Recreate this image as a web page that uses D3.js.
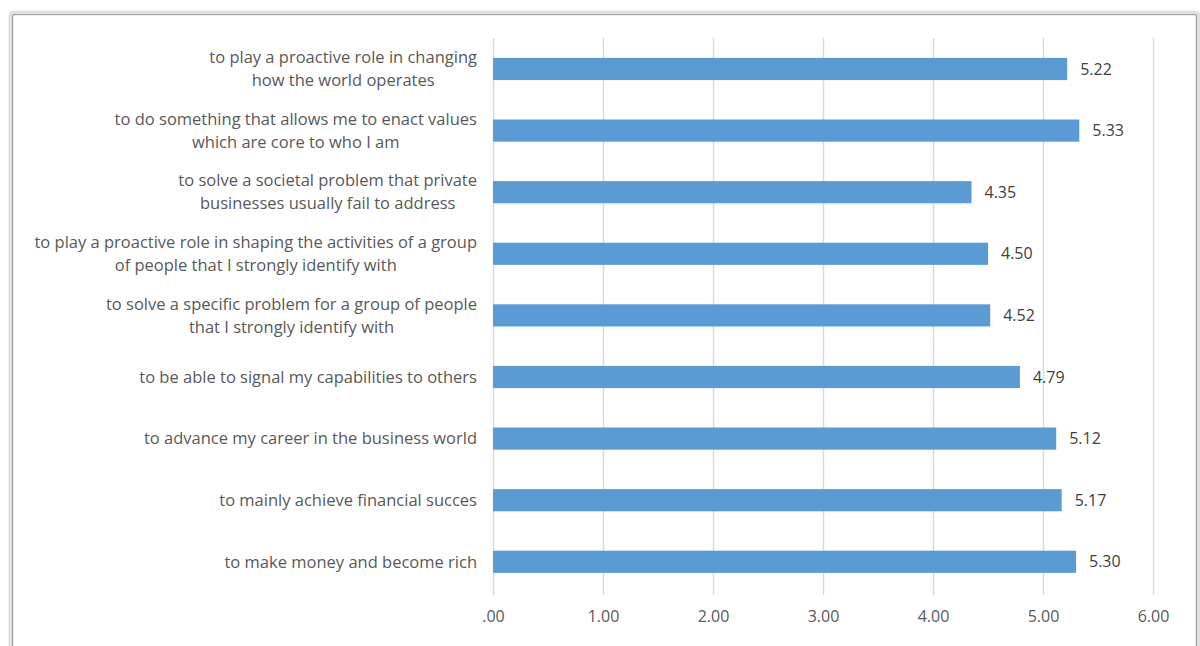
<!DOCTYPE html>
<html><head><meta charset="utf-8">
<script src="https://d3js.org/d3.v7.min.js"></script>
<style>body{margin:0;background:#fff;}svg{display:block;}</style>
</head><body>
<script>
const categories = [
  ["to play a proactive role in changing","how the world operates"],
  ["to do something that allows me to enact values","which are core to who I am"],
  ["to solve a societal problem that private","businesses usually fail to address"],
  ["to play a proactive role in shaping the activities of a group","of people that I strongly identify with"],
  ["to solve a specific problem for a group of people","that I strongly identify with"],
  ["to be able to signal my capabilities to others"],
  ["to advance my career in the business world"],
  ["to mainly achieve financial succes"],
  ["to make money and become rich"]
];
const values = [5.22, 5.33, 4.35, 4.50, 4.52, 4.79, 5.12, 5.17, 5.30];
const xTicks = [0, 1, 2, 3, 4, 5, 6];

const W = 1200, H = 646;
const svg = d3.select("body").append("svg").attr("width", W).attr("height", H);
const font = "'Open Sans', 'DejaVu Sans', sans-serif";

// frame
svg.append("rect").attr("x", 10).attr("y", 12).attr("width", 1189).attr("height", 700)
  .attr("rx", 4).attr("fill", "none").attr("stroke", "#e0e0e0").attr("stroke-width", 3);
svg.append("rect").attr("x", 12.5).attr("y", 14.5).attr("width", 1184).attr("height", 700)
  .attr("rx", 2).attr("fill", "#fff").attr("stroke", "#a8a8a8").attr("stroke-width", 1.5);

const x = d3.scaleLinear().domain([0, 6]).range([493, 1153]);
const idx = categories.map((d, i) => i);
const y = d3.scaleBand().domain(idx).range([38.2, 592.6]).paddingInner(0.64).paddingOuter(0.32);

// gridlines + axis ticks
const xAxis = d3.axisBottom(x).tickValues(xTicks)
  .tickFormat(d => d === 0 ? ".00" : d.toFixed(2))
  .tickSize(-(595 - 38)).tickPadding(16);
const gx = svg.append("g").attr("transform", "translate(0,595)").call(xAxis);
gx.select(".domain").remove();
gx.selectAll(".tick line").attr("stroke", "#d9d9d9").attr("stroke-width", 1.5);
gx.selectAll(".tick text").attr("fill", "#595959").style("font-family", font).style("font-size", "16px");

// bars
svg.append("g").selectAll("rect").data(values).join("rect")
  .attr("x", x(0)).attr("y", (d, i) => y(i))
  .attr("width", d => x(d) - x(0)).attr("height", y.bandwidth())
  .attr("fill", "#5B9BD5");

// value labels
svg.append("g").selectAll("text").data(values).join("text")
  .attr("x", d => x(d) + 13).attr("y", (d, i) => y(i) + y.bandwidth() / 2)
  .attr("dy", "0.35em").attr("fill", "#404040")
  .style("font-family", font).style("font-size", "16px")
  .text(d => d.toFixed(2));

// category labels
const lg = svg.append("g");
categories.forEach((lines, i) => {
  const cy = y(i) + y.bandwidth() / 2;
  const t = lg.append("text").attr("fill", "#595959")
    .style("font-family", font).style("font-size", "16.5px").attr("text-anchor", "middle");
  const n = lines.length;
  lines.forEach((l, j) => {
    t.append("tspan").attr("x", 0).attr("y", cy + (j - (n - 1) / 2) * 23).attr("dy", "0.35em").text(l);
  });
  const bb = t.node().getBBox();
  t.attr("transform", `translate(${477 - bb.width / 2},0)`);
  t.selectAll("tspan").attr("x", 0);
});
</script>
</body></html>
